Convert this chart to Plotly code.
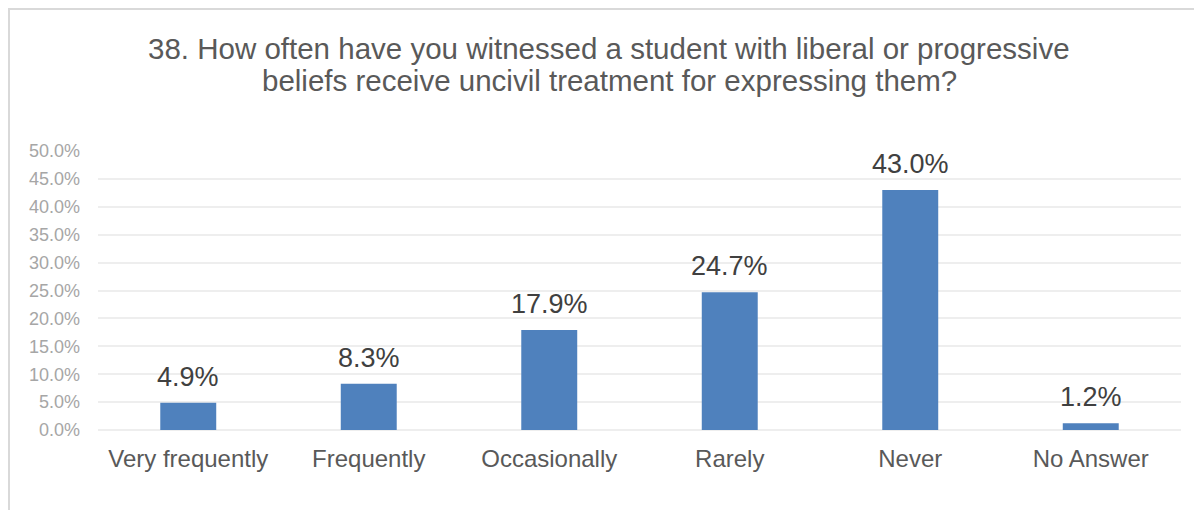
import plotly.graph_objects as go

categories = ["Very frequently", "Frequently", "Occasionally", "Rarely", "Never", "No Answer"]
values = [4.9, 8.3, 17.9, 24.7, 43.0, 1.2]
y_ticks = [0, 5, 10, 15, 20, 25, 30, 35, 40, 45, 50]
y_tick_labels = [f"{v:.1f}%" for v in y_ticks]
title_lines = [
    "38. How often have you witnessed a student with liberal or progressive",
    "beliefs receive uncivil treatment for expressing them?",
]

FONT = "Liberation Sans, Arial, sans-serif"

# plot area in page px (page is offset by 8px body margin)
PL, PR, PT, PB = 98, 1181, 151, 430
PW, PH = PR - PL, PB - PT


def px_x(page_x):
    return (page_x - PL) / PW


def px_y(page_y):
    return (PB - page_y) / PH


fig = go.Figure()
fig.add_trace(go.Bar(
    x=categories, y=values,
    marker=dict(color="#4F81BD", line=dict(width=0)),
    width=0.31,
    hoverinfo="skip",
))

for c, v in zip(categories, values):
    fig.add_annotation(
        x=c, y=v, xref="x", yref="y",
        text=f"{v:.1f}%", showarrow=False,
        yanchor="bottom", yshift=9,
        font=dict(family=FONT, size=27, color="#404040"),
    )

for line, py in zip(title_lines, [48.5, 80.5]):
    fig.add_annotation(
        x=px_x(609), y=px_y(py), xref="paper", yref="paper",
        text=line, showarrow=False, xanchor="center", yanchor="middle",
        font=dict(family=FONT, size=29.5, color="#595959"),
    )

fig.update_layout(
    width=1202, height=510,
    margin=dict(l=PL - 8, r=1202 - (PR - 8), t=PT - 8, b=510 - (PB - 8)),
    paper_bgcolor="white", plot_bgcolor="white",
    showlegend=False,
    xaxis=dict(
        showgrid=False, showline=False, zeroline=False,
        tickfont=dict(family=FONT, size=24, color="#595959"),
        ticks="", ticklabelstandoff=12,
    ),
    yaxis=dict(
        range=[0, 50], tickvals=y_ticks, ticktext=y_tick_labels,
        showgrid=True, gridcolor="#EEEEEE", gridwidth=2,
        zeroline=True, zerolinecolor="#EEEEEE", zerolinewidth=2,
        showline=False, ticks="",
        tickfont=dict(family=FONT, size=18, color="#A6A6A6"),
        ticklabelstandoff=17,
    ),
    shapes=[dict(
        type="rect", xref="paper", yref="paper",
        x0=px_x(9), x1=1.2, y0=-0.5, y1=px_y(9),
        line=dict(color="#D9D9D9", width=2), fillcolor="rgba(0,0,0,0)",
        layer="below",
    )],
)

fig.write_html("out.html")
